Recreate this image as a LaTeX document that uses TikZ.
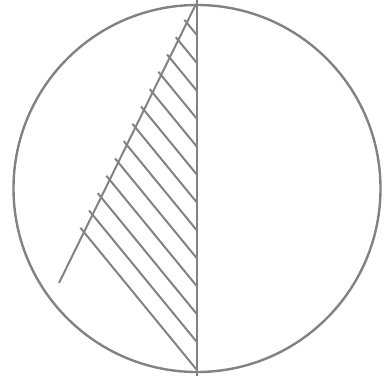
\documentclass[tikz,border=0pt]{standalone}
\usepackage{tikz}
\definecolor{lc}{RGB}{130,130,130}
\begin{document}
\begin{tikzpicture}[x=1pt,y=-1pt,
  circ/.style={draw=lc,line width=2.4pt},
  hatch/.style={draw=lc,line width=2pt},
  axis/.style={draw=lc,line width=1.3pt}]
\useasboundingbox (0,0) rectangle (391,378);
\coordinate (c) at (197,188.5);
\coordinate (top) at (197,0);
\coordinate (bot) at (197,376);
\coordinate (sa) at (196,4);
\coordinate (sb) at (59,283);
\draw[circ] (c) circle[radius=183.5];
\draw[axis] (top) -- (bot);
\draw[hatch] (sa) -- (sb);
\foreach \i in {0,...,12}{
  \pgfmathsetmacro{\xt}{187-8.67*\i}
  \pgfmathsetmacro{\yt}{23+17.33*\i}
  \pgfmathsetmacro{\ye}{\yt+1.22*(197-\xt)}
  \coordinate (t\i) at (\xt-2.6,\yt-3.2);
  \coordinate (e\i) at (197,\ye);
  \draw[hatch] (t\i) -- (e\i);
}
\end{tikzpicture}
\end{document}
